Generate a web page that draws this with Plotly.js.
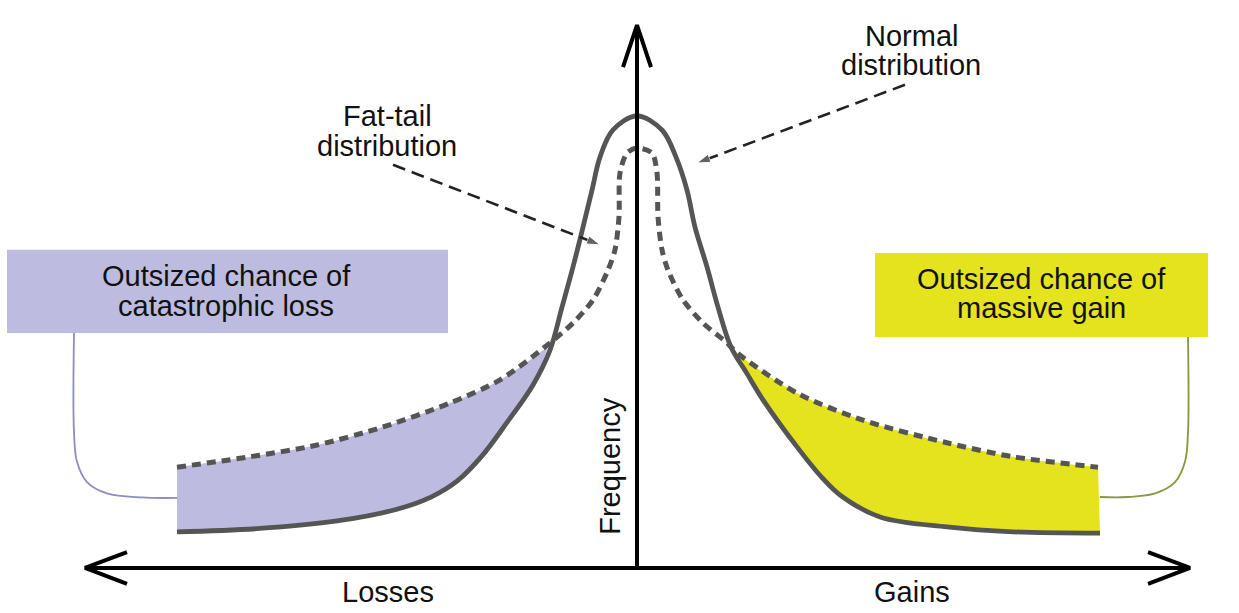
<!DOCTYPE html>
<html>
<head>
<meta charset="utf-8">
<script src="https://cdn.plot.ly/plotly-3.0.1.min.js"></script>
<style>html,body{margin:0;padding:0;background:#fff;}#chart{width:1239px;height:613px;}</style>
</head>
<body>
<div id="chart"></div>
<script>
// ---- Data (returns on x, relative frequency on y) ----
const normalX = [-4.60,-3.80,-3.00,-2.40,-2.05,-1.80,-1.55,-1.30,-1.04,-0.87,-0.75,-0.64,-0.54,-0.45,-0.37,-0.24,0.00,0.25,0.39,0.50,0.58,0.70,0.81,0.94,1.10,1.26,1.60,1.85,2.05,2.43,3.10,3.76,4.63];
const normalY = [0.080,0.087,0.104,0.130,0.158,0.192,0.248,0.322,0.405,0.482,0.577,0.666,0.754,0.836,0.909,0.969,1.000,0.969,0.909,0.836,0.754,0.666,0.577,0.489,0.430,0.372,0.268,0.200,0.158,0.113,0.091,0.080,0.077];

const fatX = [-4.60,-3.87,-3.20,-2.54,-1.87,-1.37,-0.87,-0.64,-0.44,-0.29,-0.22,-0.18,-0.17,-0.10,0.00,0.15,0.20,0.21,0.25,0.31,0.46,0.66,0.90,1.00,1.60,2.26,3.10,3.76,4.61];
const fatY = [0.223,0.246,0.272,0.312,0.365,0.416,0.498,0.542,0.593,0.659,0.704,0.777,0.874,0.918,0.929,0.918,0.874,0.777,0.704,0.659,0.593,0.542,0.498,0.476,0.387,0.327,0.277,0.246,0.223];

// crossing points of the two curves (loss side, gain side)
const crossLoss = [-0.89, 0.490];
const crossGain = [0.95, 0.491];

// axis extents
const axisXEnds = [-5.52, 5.53];
const axisYTop = 1.201;

// text labels
const labelNormal = ["Normal", "distribution"];
const labelFat = ["Fat-tail", "distribution"];
const labelLossBox = ["Outsized chance of", "catastrophic loss"];
const labelGainBox = ["Outsized chance of", "massive gain"];
const labelYAxis = "Frequency";
const labelLoss = "Losses";
const labelGain = "Gains";

// pointer lines (tail -> tip)
const normalPtrX = [2.68, 0.60], normalPtrY = [1.069, 0.896];
const fatPtrX = [-2.44, -0.37], fatPtrY = [0.892, 0.715];

// callout boxes [x0,x1,y0,y1]
const lossBox = [-6.30, -1.89, 0.520, 0.704];
const gainBox = [2.38, 5.71, 0.511, 0.697];

// connectors
const lossConnX = [-5.63,-5.63,-5.60,-5.50,-5.30,-4.95,-4.60];
const lossConnY = [0.520,0.300,0.235,0.190,0.165,0.156,0.155];
const gainConnX = [5.51,5.51,5.48,5.38,5.18,4.90,4.63];
const gainConnY = [0.511,0.300,0.235,0.190,0.165,0.157,0.157];

// ---- styles ----
const curveColor = '#555555';
const lossFill = '#bdbbdf';
const gainFill = '#e4e31d';
const font = 'Liberation Sans, Arial, sans-serif';

function subset(xs, ys, test, extra) {
  const px = [], py = [];
  xs.forEach((x, i) => { if (test(x)) { px.push(x); py.push(ys[i]); } });
  px.push(extra[0]); py.push(extra[1]);
  const idx = px.map((_, i) => i).sort((a, b) => px[a] - px[b]);
  return {x: idx.map(i => px[i]), y: idx.map(i => py[i])};
}
const nL = subset(normalX, normalY, x => x < crossLoss[0], crossLoss);
const fL = subset(fatX, fatY, x => x < crossLoss[0], crossLoss);
const nG = subset(normalX, normalY, x => x > crossGain[0], crossGain);
const fG = subset(fatX, fatY, x => x > crossGain[0], crossGain);

const sp = {shape: 'spline', smoothing: 1};
const traces = [
  {x: nL.x, y: nL.y, mode: 'lines', line: Object.assign({width: 0, color: lossFill}, sp), hoverinfo: 'skip'},
  {x: fL.x, y: fL.y, mode: 'lines', fill: 'tonexty', fillcolor: lossFill, line: Object.assign({width: 0, color: lossFill}, sp), hoverinfo: 'skip'},
  {x: nG.x, y: nG.y, mode: 'lines', line: Object.assign({width: 0, color: gainFill}, sp), hoverinfo: 'skip'},
  {x: fG.x, y: fG.y, mode: 'lines', fill: 'tonexty', fillcolor: gainFill, line: Object.assign({width: 0, color: gainFill}, sp), hoverinfo: 'skip'},
  // connectors
  {x: lossConnX, y: lossConnY, mode: 'lines', line: Object.assign({width: 1.8, color: '#8e8bc6'}, sp)},
  {x: gainConnX, y: gainConnY, mode: 'lines', line: Object.assign({width: 1.8, color: '#8a9640'}, sp)},
  // curves
  {x: fatX, y: fatY, mode: 'lines', line: {shape: 'spline', smoothing: 0.8, width: 5, color: curveColor, dash: '9px,6px'}},
  {x: normalX, y: normalY, mode: 'lines', line: Object.assign({width: 4.8, color: curveColor}, sp)},
  // axes
  {x: axisXEnds, y: [0, 0], mode: 'lines', line: {width: 4, color: '#000'}},
  {x: [0, 0], y: [0, axisYTop], mode: 'lines', line: {width: 4, color: '#000'}},
  {x: [axisXEnds[0] + 0.42, axisXEnds[0], axisXEnds[0] + 0.42], y: [0.035, 0, -0.035], mode: 'lines', line: {width: 4, color: '#000'}},
  {x: [axisXEnds[1] - 0.42, axisXEnds[1], axisXEnds[1] - 0.42], y: [0.035, 0, -0.035], mode: 'lines', line: {width: 4, color: '#000'}},
  {x: [-0.14, 0, 0.14], y: [axisYTop - 0.093, axisYTop, axisYTop - 0.093], mode: 'lines', line: {width: 4, color: '#000'}},
  // pointers
  {x: normalPtrX, y: normalPtrY, mode: 'lines+markers', line: {width: 2.6, color: '#222', dash: '13px,7px'},
   marker: {symbol: 'arrow', angleref: 'previous', size: [0, 14], color: '#222'}},
  {x: fatPtrX, y: fatPtrY, mode: 'lines+markers', line: {width: 2.6, color: '#222', dash: '13px,7px'},
   marker: {symbol: 'arrow', angleref: 'previous', size: [0, 14], color: '#222'}}
];

function lbl(text, x, y, extra) {
  return Object.assign({text: text, x: x, y: y, xref: 'x', yref: 'y', showarrow: false,
    font: {family: font, size: 29, color: '#111'}, xanchor: 'center', yanchor: 'middle'}, extra || {});
}
const annotations = [
  lbl(labelNormal[0], 2.74, 1.177), lbl(labelNormal[1], 2.74, 1.113),
  lbl(labelFat[0], -2.50, 0.999), lbl(labelFat[1], -2.50, 0.934),
  lbl(labelLossBox[0], -4.11, 0.646), lbl(labelLossBox[1], -4.11, 0.580),
  lbl(labelGainBox[0], 4.04, 0.639), lbl(labelGainBox[1], 4.04, 0.575),
  lbl(labelYAxis, -0.27, 0.226, {textangle: -90}),
  lbl(labelLoss, -2.49, -0.053), lbl(labelGain, 2.75, -0.053)
];

const shapes = [
  {type: 'rect', xref: 'x', yref: 'y', x0: lossBox[0], x1: lossBox[1], y0: lossBox[2], y1: lossBox[3], fillcolor: lossFill, line: {width: 0}, layer: 'below'},
  {type: 'rect', xref: 'x', yref: 'y', x0: gainBox[0], x1: gainBox[1], y0: gainBox[2], y1: gainBox[3], fillcolor: gainFill, line: {width: 0}, layer: 'below'}
];

const layout = {
  width: 1239, height: 613,
  margin: {l: 0, r: 0, t: 0, b: 0},
  paper_bgcolor: '#fff', plot_bgcolor: '#fff',
  showlegend: false,
  xaxis: {range: [-6.37, 6.02], visible: false, fixedrange: true},
  yaxis: {range: [-0.0996, 1.2566], visible: false, fixedrange: true},
  shapes: shapes,
  annotations: annotations,
  font: {family: font}
};
Plotly.newPlot('chart', traces, layout, {staticPlot: true, displayModeBar: false});
</script>
</body>
</html>
